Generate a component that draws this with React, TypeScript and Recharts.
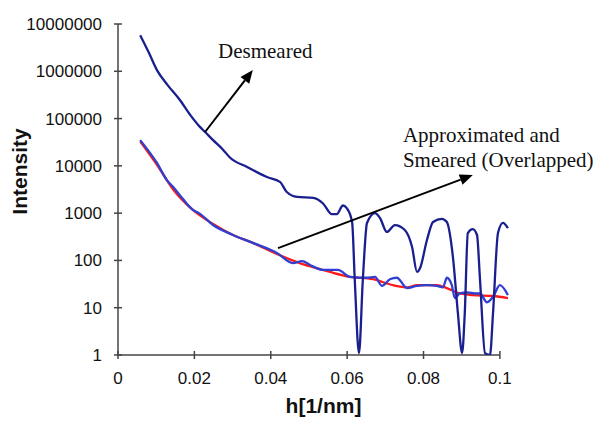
import React from 'react';
import { LineChart, Line, XAxis, YAxis, ReferenceLine, ReferenceDot } from 'recharts';

// ---- data ----
const desmearedX = [0.0058, 0.008, 0.0102, 0.013, 0.0162, 0.019, 0.0215, 0.0228, 0.0249, 0.0275, 0.0293, 0.0338, 0.039, 0.0424, 0.0442, 0.0469, 0.0511, 0.0537, 0.056, 0.0573, 0.0589, 0.0599, 0.0613, 0.062, 0.0631, 0.0641, 0.0652, 0.0673, 0.0686, 0.0704, 0.0725, 0.0751, 0.077, 0.0783, 0.0791, 0.0809, 0.0825, 0.0848, 0.0861, 0.0877, 0.089, 0.0901, 0.0908, 0.0916, 0.0929, 0.094, 0.0948, 0.0961, 0.0974, 0.0982, 0.0995, 0.1008, 0.1021];
const desmearedY = [5.8e6, 2.55e6, 1.06e6, 5.1e5, 2.47e5, 1.17e5, 6.6e4, 5.2e4, 3.5e4, 2.2e4, 1.5e4, 9.5e3, 5.8e3, 4.6e3, 2.8e3, 2.2e3, 2.1e3, 1.6e3, 950, 950, 1450, 1280, 650, 38, 1.1, 38, 620, 1000, 790, 400, 560, 440, 192, 57, 69, 270, 650, 760, 650, 118, 7.7, 1.1, 7.7, 380, 460, 345, 38, 1.1, 1.0, 7.7, 380, 620, 480];

const smearedX = [0.0058, 0.0102, 0.0128, 0.0144, 0.0162, 0.0196, 0.0212, 0.0249, 0.0301, 0.0353, 0.0416, 0.0458, 0.0482, 0.0503, 0.0537, 0.0576, 0.0607, 0.0652, 0.0673, 0.0691, 0.0712, 0.073, 0.0757, 0.0783, 0.0809, 0.0835, 0.0851, 0.0861, 0.0874, 0.0882, 0.0895, 0.0914, 0.0935, 0.0948, 0.0966, 0.0982, 0.1, 0.1021];
const smearedY = [3.5e4, 1.15e4, 5.0e3, 3.6e3, 2.4e3, 1170, 1000, 560, 345, 235, 144, 88, 97, 80, 63, 63, 45, 43, 45, 29, 40, 43, 26, 29, 30, 29, 27, 43, 30, 16, 20, 21, 20, 20, 13, 17, 30, 18.5];

const approxX = [0.0058, 0.0102, 0.0144, 0.0196, 0.0249, 0.0301, 0.0353, 0.0416, 0.0476, 0.0511, 0.0555, 0.0607, 0.0668, 0.072, 0.0757, 0.0783, 0.0835, 0.0861, 0.0895, 0.0929, 0.0982, 0.1021];
const approxY = [3.3e4, 1.05e4, 3.2e3, 1170, 590, 345, 235, 137, 88, 72, 57, 45, 40, 30, 27, 30, 30, 26, 20, 18.5, 17.7, 16];

const xTicks = [0, 0.02, 0.04, 0.06, 0.08, 0.1];
const yTicks = [1, 10, 100, 1000, 10000, 100000, 1000000, 10000000];

// annotation anchors (data units)
const desmearedArrow = [{ x: 0.0228, y: 5.2e4 }, { x: 0.0353, y: 1.06e6 }];
const smearedArrow = [{ x: 0.0419, y: 182 }, { x: 0.0929, y: 6390 }];
const desmearedLabel = { x: 0.0262, y: 1.9e6, lines: ['Desmeared'] };
const smearedLabel = { x: 0.0746, y: 3.2e4, lines: ['Approximated and', 'Smeared (Overlapped)'] };

const toRows = (xs: number[], ys: number[]) => xs.map((x, i) => ({ x, y: ys[i] }));
const desmeared = toRows(desmearedX, desmearedY);
const smeared = toRows(smearedX, smearedY);
const approx = toRows(approxX, approxY);

const AXIS = '#444';
const TICK_FONT = '"Liberation Sans", Arial, sans-serif';

const YTick = (props: any) => {
  const { x, y, payload } = props;
  const ax = x + 16;
  return (
    <g>
      <line x1={ax - 4} x2={ax + 4} y1={y} y2={y} stroke={AXIS} strokeWidth={1.5} />
      <text x={x} y={y} dy={6} textAnchor="end" fontSize={17} fontFamily={TICK_FONT} fill="#111">
        {payload.value}
      </text>
    </g>
  );
};

const XTick = (props: any) => {
  const { x, y, payload } = props;
  const ay = y - 17;
  return (
    <g>
      <line x1={x} x2={x} y1={ay - 4} y2={ay + 4} stroke={AXIS} strokeWidth={1.5} />
      <text x={x} y={y} dy={12} textAnchor="middle" fontSize={17} fontFamily={TICK_FONT} fill="#111">
        {payload.value}
      </text>
    </g>
  );
};

const Arrow = (props: any) => {
  const { x1, y1, x2, y2 } = props;
  const ang = Math.atan2(y2 - y1, x2 - x1);
  const L = 13;
  const W = 5.5;
  const bx = x2 - L * Math.cos(ang);
  const by = y2 - L * Math.sin(ang);
  const px = -Math.sin(ang) * W;
  const py = Math.cos(ang) * W;
  return (
    <g>
      <line x1={x1} y1={y1} x2={bx} y2={by} stroke="#000" strokeWidth={2} />
      <polygon points={`${x2},${y2} ${bx + px},${by + py} ${bx - px},${by - py}`} fill="#000" />
    </g>
  );
};

const makeLabel = (lines: string[]) => (props: any) => {
  const { cx, cy } = props;
  return (
    <text x={cx} y={cy} fontSize={21} fontFamily='"Liberation Serif", "Times New Roman", serif' fill="#111">
      {lines.map((l, i) => (
        <tspan key={i} x={cx} dy={i === 0 ? 0 : 25}>
          {l}
        </tspan>
      ))}
    </text>
  );
};

export default function App() {
  return (
    <div style={{ position: 'absolute', left: 0, top: 0, width: 593, height: 423, background: '#fff' }}>
      <LineChart width={593} height={423} margin={{ top: 24, right: 74, bottom: 0, left: 0 }}>
        <XAxis
          type="number"
          dataKey="x"
          domain={[0, 0.105]}
          allowDataOverflow
          ticks={xTicks}
          axisLine={false}
          tickLine={false}
          tickSize={4}
          tickMargin={13}
          height={68}
          tick={<XTick />}
          label={{
            value: 'h[1/nm]',
            position: 'insideBottom',
            offset: 10,
            dx: 5,
            style: { fontSize: 21, fontWeight: 'bold', fontFamily: TICK_FONT, fill: '#111' },
          }}
        />
        <YAxis
          type="number"
          scale="log"
          domain={[1, 10000000]}
          allowDataOverflow
          ticks={yTicks}
          width={118}
          tickLine={false}
          tickSize={4}
          tickMargin={12}
          axisLine={{ stroke: AXIS, strokeWidth: 1.5 }}
          tick={<YTick />}
          label={{
            value: 'Intensity',
            angle: -90,
            position: 'insideLeft',
            offset: 0,
            dx: 20,
            dy: -18,
            style: { fontSize: 21, fontWeight: 'bold', fontFamily: TICK_FONT, fill: '#111', textAnchor: 'middle' },
          }}
        />
        <ReferenceLine
          segment={[{ x: 0, y: 1 }, { x: 0.1, y: 1 }]}
          stroke={AXIS}
          strokeWidth={1.5}
          ifOverflow="visible"
        />
        <Line data={approx} dataKey="y" type="monotone" stroke="#ff1a1a" strokeWidth={2.3} dot={false} isAnimationActive={false} />
        <Line data={smeared} dataKey="y" type="monotone" stroke="#2f3fcf" strokeWidth={2.3} dot={false} isAnimationActive={false} />
        <Line data={desmeared} dataKey="y" type="monotone" stroke="#1a1f8f" strokeWidth={2.3} dot={false} isAnimationActive={false} />
        <ReferenceLine segment={desmearedArrow} shape={<Arrow />} ifOverflow="visible" />
        <ReferenceLine segment={smearedArrow} shape={<Arrow />} ifOverflow="visible" />
        <ReferenceDot x={desmearedLabel.x} y={desmearedLabel.y} r={0} ifOverflow="visible" shape={makeLabel(desmearedLabel.lines)} />
        <ReferenceDot x={smearedLabel.x} y={smearedLabel.y} r={0} ifOverflow="visible" shape={makeLabel(smearedLabel.lines)} />
      </LineChart>
    </div>
  );
}
